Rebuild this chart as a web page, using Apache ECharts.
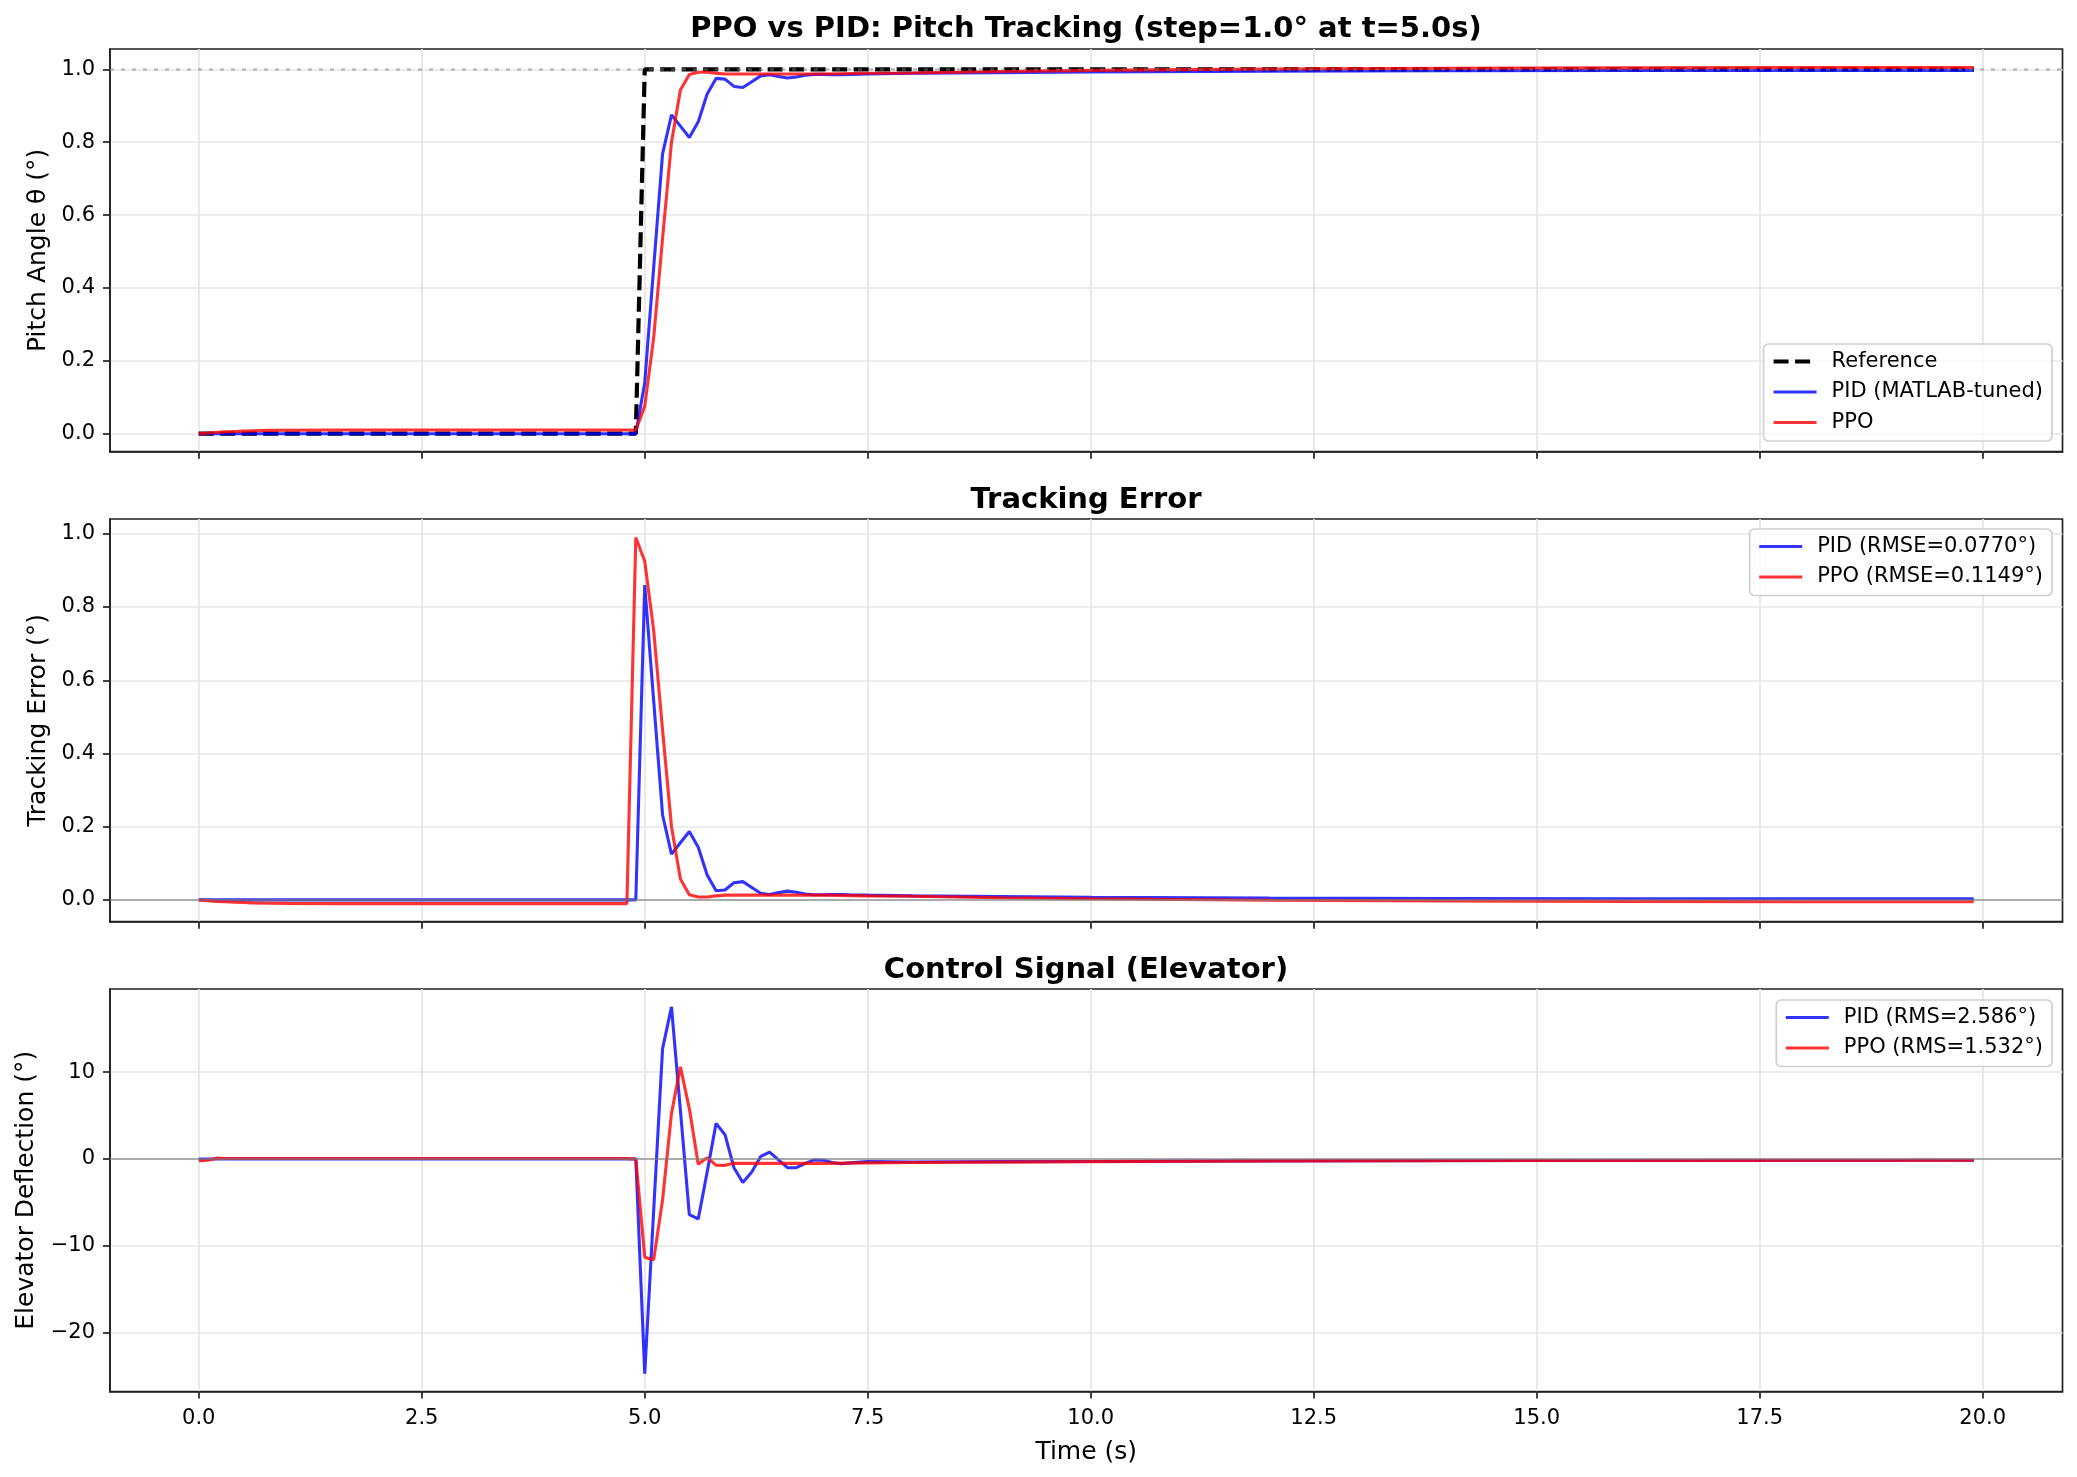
<!DOCTYPE html>
<html>
<head>
<meta charset="utf-8">
<script src="https://cdn.jsdelivr.net/npm/echarts@6/dist/echarts.min.js"></script>
<style>
html, body { margin: 0; padding: 0; background: #fff; }
#main { width: 2077px; height: 1477px; }
</style>
</head>
<body>
<div id="main"></div>
<script>
// time ticks shared by all three panels
var timeTicks = [0, 2.5, 5, 7.5, 10, 12.5, 15, 17.5, 20];
var pitchTicks = [0, 0.2, 0.4, 0.6, 0.8, 1.0];
var errTicks = [0, 0.2, 0.4, 0.6, 0.8, 1.0];
var ctrlTicks = [-20, -10, 0, 10];

// panel 1: pitch angle [t, deg]
var refPitch = [[0, 0], [4.9, 0], [5.0, 1], [19.9, 1]];
var pidPitch = [[0, 0], [4.9, 0], [5.0, 0.14], [5.1, 0.455], [5.2, 0.768], [5.3, 0.875], [5.4, 0.844],
  [5.5, 0.813], [5.6, 0.856], [5.7, 0.932], [5.8, 0.975], [5.9, 0.973], [6.0, 0.953], [6.1, 0.95],
  [6.2, 0.966], [6.3, 0.982], [6.4, 0.985], [6.5, 0.98], [6.6, 0.976], [6.7, 0.979], [6.8, 0.984],
  [6.9, 0.986], [7.0, 0.986], [7.1, 0.985], [7.2, 0.985], [7.3, 0.986], [7.5, 0.987], [8.0, 0.989],
  [9.0, 0.991], [10, 0.993], [12, 0.995], [14, 0.996], [16, 0.997], [18, 0.997], [19.9, 0.997]];
var ppoPitch = [[0, 0], [0.1, 0.002], [0.2, 0.004], [0.3, 0.005], [0.4, 0.006], [0.5, 0.007], [0.6, 0.008],
  [0.8, 0.009], [1.0, 0.0095], [1.5, 0.01], [4.9, 0.01], [5.0, 0.075], [5.1, 0.263], [5.2, 0.536],
  [5.3, 0.8], [5.4, 0.943], [5.5, 0.986], [5.6, 0.992], [5.7, 0.992], [5.8, 0.989], [5.9, 0.987],
  [6.0, 0.987], [7.0, 0.987], [7.5, 0.989], [8.0, 0.99], [9, 0.994], [10, 0.997], [11, 0.999],
  [12, 1.001], [14, 1.003], [16, 1.004], [18, 1.005], [19.9, 1.005]];

// panel 2: tracking error [t, deg]
var pidErr = [[0, 0], [4.9, 0], [5.0, 0.86], [5.1, 0.545], [5.2, 0.232], [5.3, 0.125], [5.4, 0.156],
  [5.5, 0.187], [5.6, 0.144], [5.7, 0.068], [5.8, 0.025], [5.9, 0.027], [6.0, 0.047], [6.1, 0.05],
  [6.2, 0.034], [6.3, 0.018], [6.4, 0.015], [6.5, 0.02], [6.6, 0.024], [6.7, 0.021], [6.8, 0.016],
  [6.9, 0.014], [7.0, 0.014], [7.1, 0.015], [7.2, 0.015], [7.3, 0.014], [7.5, 0.013], [8.0, 0.011],
  [9.0, 0.009], [10, 0.007], [12, 0.005], [14, 0.004], [16, 0.003], [18, 0.003], [19.9, 0.003]];
var ppoErr = [[0, 0], [0.1, -0.002], [0.2, -0.004], [0.3, -0.005], [0.4, -0.006], [0.5, -0.007],
  [0.6, -0.008], [0.8, -0.009], [1.0, -0.0095], [1.5, -0.01], [4.8, -0.01], [4.9, 0.99], [5.0, 0.925],
  [5.1, 0.737], [5.2, 0.464], [5.3, 0.2], [5.4, 0.057], [5.5, 0.014], [5.6, 0.008], [5.7, 0.008],
  [5.8, 0.011], [5.9, 0.013], [6.0, 0.013], [7.0, 0.013], [7.5, 0.011], [8, 0.01], [9, 0.006],
  [10, 0.003], [11, 0.001], [12, -0.001], [14, -0.003], [16, -0.004], [18, -0.005], [19.9, -0.005]];

// panel 3: elevator deflection [t, deg]
var pidCtrl = [[0, 0], [4.9, 0], [5.0, -24.7], [5.1, -6.0], [5.2, 12.7], [5.3, 17.5], [5.4, 5.6],
  [5.5, -6.4], [5.6, -6.9], [5.7, -1.5], [5.8, 4.1], [5.9, 2.8], [6.0, -1.0], [6.1, -2.7], [6.2, -1.5],
  [6.3, 0.3], [6.4, 0.8], [6.5, -0.1], [6.6, -1.0], [6.7, -1.0], [6.8, -0.5], [6.9, -0.1], [7.0, -0.15],
  [7.1, -0.4], [7.2, -0.55], [7.3, -0.45], [7.5, -0.3], [8, -0.35], [9, -0.3], [10, -0.28],
  [12, -0.22], [15, -0.18], [19.9, -0.15]];
var ppoCtrl = [[0, -0.2], [0.1, -0.15], [0.2, 0.1], [0.3, 0.05], [1, 0.05], [4.8, 0.05], [4.9, 0],
  [5.0, -11.3], [5.1, -11.6], [5.2, -4.7], [5.3, 5.25], [5.4, 10.6], [5.5, 5.8], [5.6, -0.6],
  [5.7, 0.15], [5.8, -0.7], [5.9, -0.73], [6.0, -0.5], [7.0, -0.5], [7.5, -0.45], [8, -0.4],
  [10, -0.3], [12, -0.22], [15, -0.18], [19.9, -0.15]];

var FONT = 'DejaVu Sans';
var BLUE = 'rgba(0,0,255,0.8)';
var RED = 'rgba(255,0,0,0.8)';
var SPINE = '#222';
var GRIDC = '#e6e6e6';

function xAxisFor(idx, showLabels) {
  return {
    type: 'value', gridIndex: idx, min: -0.995, max: 20.895,
    name: showLabels ? 'Time (s)' : '', nameLocation: 'middle', nameGap: 48,
    nameTextStyle: { fontFamily: FONT, fontSize: 25, color: '#000' },
    axisLine: { show: true, onZero: false, lineStyle: { color: SPINE, width: 1.7 } },
    axisTick: { show: true, length: 7, lineStyle: { color: SPINE, width: 1.7 }, customValues: timeTicks },
    axisLabel: {
      show: showLabels, margin: 17, fontFamily: FONT, fontSize: 21, color: '#000',
      customValues: timeTicks,
      formatter: function (v) { return v.toFixed(1); }
    },
    splitLine: { show: true, lineStyle: { color: GRIDC, width: 1.7 } }
  };
}

function yAxisFor(idx, name, lo, hi, ticks, digits, gap) {
  return {
    type: 'value', gridIndex: idx, min: lo, max: hi,
    name: name, nameLocation: 'middle', nameGap: gap,
    nameTextStyle: { fontFamily: FONT, fontSize: 25, color: '#000' },
    axisLine: { show: true, onZero: false, lineStyle: { color: SPINE, width: 1.7 } },
    axisTick: { show: true, length: 7, lineStyle: { color: SPINE, width: 1.7 }, customValues: ticks },
    axisLabel: {
      margin: 15, fontFamily: FONT, fontSize: 21, color: '#000',
      customValues: ticks,
      formatter: function (v) { return v.toFixed(digits).replace('-', '\u2212'); }
    },
    splitLine: { show: true, lineStyle: { color: GRIDC, width: 1.7 } }
  };
}

function legendAt(items, right, top, padLeft) {
  return {
    data: items, right: right, top: top, orient: 'vertical', selectedMode: false,
    itemWidth: 43, itemHeight: 14, itemGap: 9.5,
    padding: [7, 9, 8, padLeft],
    // hide the marker ECharts puts in the middle of a line legend icon
    itemStyle: { opacity: 0 },
    lineStyle: { width: 3.1 },
    backgroundColor: 'rgba(255,255,255,0.8)', borderColor: '#d0d0d0', borderWidth: 1.7, borderRadius: 5,
    textStyle: { fontFamily: FONT, fontSize: 21, color: '#000', padding: [0, 0, 0, 10] }
  };
}

function titleAt(text, top) {
  return {
    text: text, left: 1086, top: top, textAlign: 'center', padding: 0,
    textStyle: { fontFamily: FONT, fontSize: 29, fontWeight: 'bold', color: '#000' }
  };
}

function line(name, idx, data, color, extra) {
  var s = {
    name: name, type: 'line', xAxisIndex: idx, yAxisIndex: idx, data: data,
    showSymbol: false, symbol: 'none', animation: false, silent: true,
    lineStyle: { color: color, width: 3.1 }, itemStyle: { color: color }
  };
  if (extra) { for (var k in extra) s[k] = extra[k]; }
  return s;
}

var chart = echarts.init(document.getElementById('main'));
chart.setOption({
  backgroundColor: '#fff',
  animation: false,
  title: [
    titleAt('PPO vs PID: Pitch Tracking (step=1.0\u00b0 at t=5.0s)', 15),
    titleAt('Tracking Error', 486),
    titleAt('Control Signal (Elevator)', 956)
  ],
  grid: [
    { left: 110, right: 14.5, top: 49, height: 402.7, show: true, borderColor: SPINE, borderWidth: 1.7 },
    { left: 110, right: 14.5, top: 519, height: 402.7, show: true, borderColor: SPINE, borderWidth: 1.7 },
    { left: 110, right: 14.5, top: 989, height: 402.5, show: true, borderColor: SPINE, borderWidth: 1.7 }
  ],
  xAxis: [xAxisFor(0, false), xAxisFor(1, false), xAxisFor(2, true)],
  yAxis: [
    yAxisFor(0, 'Pitch Angle \u03b8 (\u00b0)', -0.0494, 1.0557, pitchTicks, 1, 59),
    yAxisFor(1, 'Tracking Error (\u00b0)', -0.0595, 1.0405, errTicks, 1, 59),
    yAxisFor(2, 'Elevator Deflection (\u00b0)', -26.75, 19.56, ctrlTicks, 0, 71)
  ],
  legend: [
    legendAt([{ name: 'Reference', lineStyle: { width: 4.2 } }, 'PID (MATLAB-tuned)', 'PPO'], 25, 344, 8),
    legendAt(['PID (RMSE=0.0770\u00b0)', 'PPO (RMSE=0.1149\u00b0)'], 25, 529, 8),
    legendAt(['PID (RMS=2.586\u00b0)', 'PPO (RMS=1.532\u00b0)'], 25, 1000, 8)
  ],
  series: [
    line('Reference', 0, refPitch, '#000', {
      lineStyle: { color: '#000', width: 4.2, type: [15, 6.5] },
      markLine: {
        silent: true, symbol: 'none', label: { show: false }, animation: false,
        lineStyle: { color: 'rgba(128,128,128,0.5)', width: 2.5, type: [4, 7] },
        data: [{ yAxis: 1.0 }]
      }
    }),
    line('PID (MATLAB-tuned)', 0, pidPitch, BLUE),
    line('PPO', 0, ppoPitch, RED),

    line('PID (RMSE=0.0770\u00b0)', 1, pidErr, BLUE, {
      markLine: {
        silent: true, symbol: 'none', label: { show: false }, animation: false,
        lineStyle: { color: 'rgba(128,128,128,0.6)', width: 2.1, type: 'solid' },
        data: [{ yAxis: 0 }]
      }
    }),
    line('PPO (RMSE=0.1149\u00b0)', 1, ppoErr, RED),

    line('PID (RMS=2.586\u00b0)', 2, pidCtrl, BLUE, {
      markLine: {
        silent: true, symbol: 'none', label: { show: false }, animation: false,
        lineStyle: { color: 'rgba(128,128,128,0.6)', width: 2.1, type: 'solid' },
        data: [{ yAxis: 0 }]
      }
    }),
    line('PPO (RMS=1.532\u00b0)', 2, ppoCtrl, RED)
  ]
});
</script>
</body>
</html>
